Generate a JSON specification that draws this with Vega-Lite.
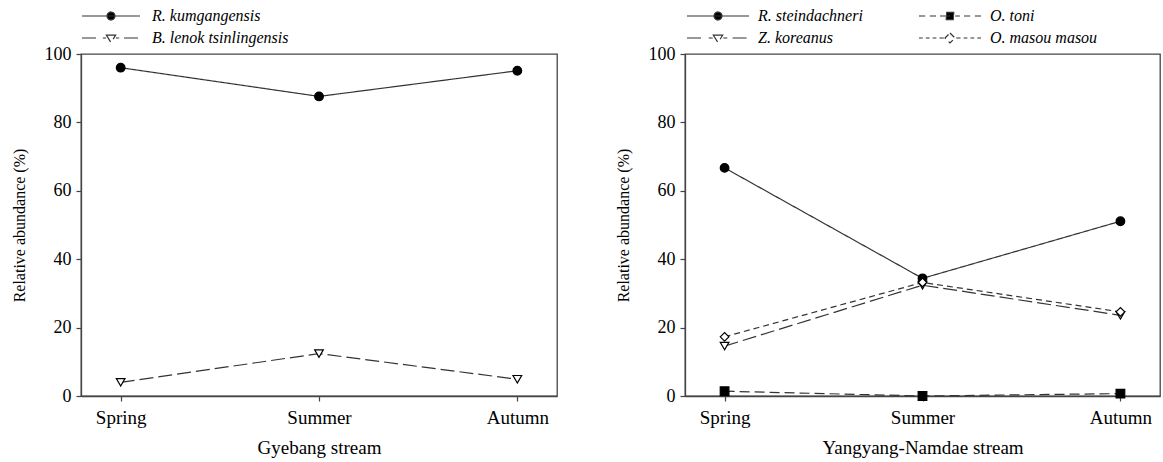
{
  "$schema": "https://vega.github.io/schema/vega-lite/v6.json",
  "padding": {"left": 10, "top": 7, "right": 0, "bottom": 0},
  "background": "white",
  "spacing": 56,
  "resolve": {"scale": {"strokeDash": "independent", "shape": "independent", "fill": "independent"}, "legend": {"strokeDash": "independent"}},
  "config": {
    "font": "Liberation Serif",
    "view": {"stroke": "#444", "strokeWidth": 1.3},
    "axis": {
      "domainColor": "#444", "domainWidth": 1.3, "tickColor": "#444", "tickSize": 5, "tickWidth": 1.2,
      "labelFont": "Liberation Serif", "labelColor": "#000",
      "titleFont": "Liberation Serif", "titleFontWeight": "normal", "titleColor": "#000",
      "grid": false
    },
    "axisY": {"labelPadding": 5, "titlePadding": 17},
    "axisX": {"labelPadding": 7, "titlePadding": 11, "labelAngle": 0},
    "legend": {
      "labelFont": "Liberation Serif", "labelFontSize": 16, "labelFontStyle": "italic", "labelColor": "#000",
      "padding": 0, "clipHeight": 16, "rowPadding": 6, "symbolStrokeColor": "#333", "symbolStrokeWidth": 1.2
    }
  },
  "hconcat": [
    {
      "width": 476, "height": 342,
      "data": {"values": [
        {"species": "R. kumgangensis", "marker": "filled circle", "season": "Spring", "value": 96.0},
        {"species": "R. kumgangensis", "marker": "filled circle", "season": "Summer", "value": 87.6},
        {"species": "R. kumgangensis", "marker": "filled circle", "season": "Autumn", "value": 95.1},
        {"species": "B. lenok tsinlingensis", "marker": "open triangle", "season": "Spring", "value": 4.0},
        {"species": "B. lenok tsinlingensis", "marker": "open triangle", "season": "Summer", "value": 12.4},
        {"species": "B. lenok tsinlingensis", "marker": "open triangle", "season": "Autumn", "value": 4.9}
      ]},
      "encoding": {
        "x": {"field": "season", "type": "ordinal", "sort": ["Spring", "Summer", "Autumn"], "scale": {"type": "point", "padding": 0.2},
              "axis": {"title": "Gyebang stream", "labelFont": "Liberation Serif", "titleFont": "Liberation Serif", "labelFontSize": 19, "titleFontSize": 19}},
        "y": {"field": "value", "type": "quantitative", "scale": {"domain": [0, 100], "nice": false},
              "axis": {"title": "Relative abundance (%)", "values": [0, 20, 40, 60, 80, 100], "labelFont": "Liberation Serif", "titleFont": "Liberation Serif", "labelFontSize": 18, "titleFontSize": 16}}
      },
      "layer": [
        {
          "mark": {"type": "line", "color": "#333", "strokeWidth": 1.2},
          "encoding": {
            "strokeDash": {
              "field": "species", "type": "nominal",
              "scale": {"domain": ["R. kumgangensis", "B. lenok tsinlingensis"], "range": [[1, 0], [14, 5]]},
              "legend": {
                "title": null, "orient": "none", "legendX": 0, "legendY": -46, "direction": "vertical",
                "symbolSize": 3364, "labelOffset": 11, "labelFont": "Liberation Serif", "labelFontStyle": "italic", "labelFontSize": 16,
                "encode": {"symbols": {"update": {
                  "shape": {"signal": "datum.value === 'R. kumgangensis' ? 'M-1,0L1,0M0.14,0L0.121,0.07L0.07,0.121L0,0.14L-0.07,0.121L-0.121,0.07L-0.14,0L-0.121,-0.07L-0.07,-0.121L0,-0.14L0.07,-0.121L0.121,-0.07Z' : 'M-1,0L-0.45,0M-0.28,0L-0.17,0M0.17,0L0.28,0M0.45,0L1,0M-0.16,-0.1L0.16,-0.1L0,0.16Z'"},
                  "fill": {"signal": "datum.value === 'R. kumgangensis' ? '#000' : '#fff'"},
                  "stroke": {"value": "#333"},
                  "strokeDash": {"value": [1, 0]},
                  "opacity": {"value": 1}
                }}}
              }
            }
          }
        },
        {
          "mark": {"type": "point", "filled": true, "size": 75, "opacity": 1, "stroke": "#000", "strokeWidth": 1.2},
          "encoding": {
            "shape": {"field": "marker", "type": "nominal", "scale": {"domain": ["filled circle", "open triangle"], "range": ["circle", "triangle-down"]}, "legend": null},
            "fill": {"field": "marker", "type": "nominal", "scale": {"domain": ["filled circle", "open triangle"], "range": ["#000", "#fff"]}, "legend": null}
          }
        }
      ]
    },
    {
      "width": 475, "height": 342,
      "data": {"values": [
        {"species": "R. steindachneri", "marker": "filled circle", "season": "Spring", "value": 66.7},
        {"species": "R. steindachneri", "marker": "filled circle", "season": "Summer", "value": 34.4},
        {"species": "R. steindachneri", "marker": "filled circle", "season": "Autumn", "value": 51.1},
        {"species": "O. toni", "marker": "filled square", "season": "Spring", "value": 1.4},
        {"species": "O. toni", "marker": "filled square", "season": "Summer", "value": 0.0},
        {"species": "O. toni", "marker": "filled square", "season": "Autumn", "value": 0.7},
        {"species": "Z. koreanus", "marker": "open triangle", "season": "Spring", "value": 14.6},
        {"species": "Z. koreanus", "marker": "open triangle", "season": "Summer", "value": 32.4},
        {"species": "Z. koreanus", "marker": "open triangle", "season": "Autumn", "value": 23.6},
        {"species": "O. masou masou", "marker": "open diamond", "season": "Spring", "value": 17.3},
        {"species": "O. masou masou", "marker": "open diamond", "season": "Summer", "value": 33.2},
        {"species": "O. masou masou", "marker": "open diamond", "season": "Autumn", "value": 24.6}
      ]},
      "encoding": {
        "x": {"field": "season", "type": "ordinal", "sort": ["Spring", "Summer", "Autumn"], "scale": {"type": "point", "padding": 0.2},
              "axis": {"title": "Yangyang-Namdae stream", "labelFont": "Liberation Serif", "titleFont": "Liberation Serif", "labelFontSize": 19, "titleFontSize": 19}},
        "y": {"field": "value", "type": "quantitative", "scale": {"domain": [0, 100], "nice": false},
              "axis": {"title": "Relative abundance (%)", "values": [0, 20, 40, 60, 80, 100], "labelFont": "Liberation Serif", "titleFont": "Liberation Serif", "labelFontSize": 18, "titleFontSize": 16}}
      },
      "layer": [
        {
          "mark": {"type": "line", "color": "#333", "strokeWidth": 1.2},
          "encoding": {
            "strokeDash": {
              "field": "species", "type": "nominal",
              "scale": {"domain": ["R. steindachneri", "O. toni", "Z. koreanus", "O. masou masou"], "range": [[1, 0], [10, 5], [14, 5], [6, 4]]},
              "legend": {
                "title": null, "orient": "none", "legendX": 1, "legendY": -46, "columns": 2, "direction": "horizontal",
                "columnPadding": 55, "gridAlign": "each",
                "symbolSize": 3844, "labelOffset": 8, "labelFont": "Liberation Serif", "labelFontStyle": "italic", "labelFontSize": 16,
                "encode": {"symbols": {"update": {
                  "shape": {"signal": "datum.value === 'R. steindachneri' ? 'M-1,0L1,0M0.13,0L0.113,0.065L0.065,0.113L0,0.13L-0.065,0.113L-0.113,0.065L-0.13,0L-0.113,-0.065L-0.065,-0.113L0,-0.13L0.065,-0.113L0.113,-0.065Z' : datum.value === 'O. toni' ? 'M-1,0L-0.8,0M-0.65,0L-0.45,0M-0.32,0L0.32,0M0.45,0L0.65,0M0.8,0L1,0M-0.12,-0.12L0.12,-0.12L0.12,0.12L-0.12,0.12Z' : datum.value === 'Z. koreanus' ? 'M-1,0L-0.47,0M-0.3,0L-0.17,0M0.17,0L0.3,0M0.47,0L1,0M-0.15,-0.09L0.15,-0.09L0,0.15Z' : 'M-1,0L-0.88,0M-0.78,0L-0.66,0M-0.56,0L-0.44,0M-0.34,0L-0.2,0M0.2,0L0.34,0M0.44,0L0.56,0M0.66,0L0.78,0M0.88,0L1,0M0,-0.16L0.16,0L0,0.16L-0.16,0Z'"},
                  "fill": {"signal": "indexof(['R. steindachneri', 'O. toni'], datum.value) >= 0 ? '#000' : '#fff'"},
                  "stroke": {"value": "#333"},
                  "strokeDash": {"value": [1, 0]},
                  "opacity": {"value": 1}
                }}}
              }
            }
          }
        },
        {
          "mark": {"type": "point", "filled": true, "size": 75, "opacity": 1, "stroke": "#000", "strokeWidth": 1.2},
          "encoding": {
            "shape": {"field": "marker", "type": "nominal", "scale": {"domain": ["filled circle", "filled square", "open triangle", "open diamond"], "range": ["circle", "square", "triangle-down", "diamond"]}, "legend": null},
            "fill": {"field": "marker", "type": "nominal", "scale": {"domain": ["filled circle", "filled square", "open triangle", "open diamond"], "range": ["#000", "#000", "#fff", "#fff"]}, "legend": null}
          }
        }
      ]
    }
  ]
}
